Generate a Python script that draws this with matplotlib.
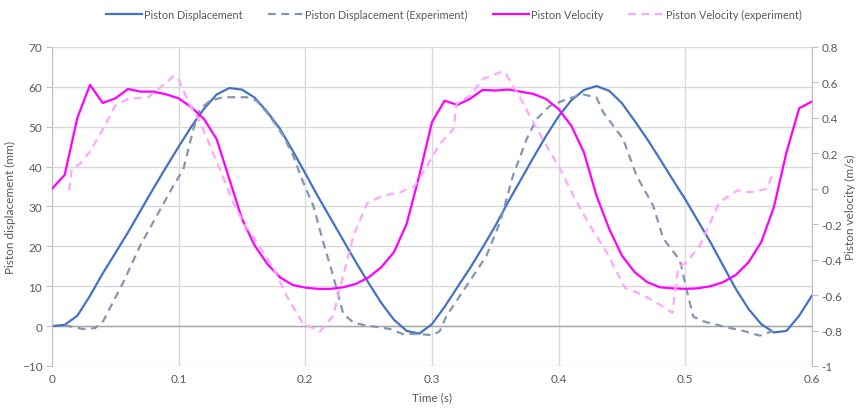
import numpy as np
import matplotlib
matplotlib.use("Agg")
import matplotlib.pyplot as plt

plt.rcParams['font.family'] = ['Lato', 'DejaVu Sans']

# model curves, sampled every 0.01 s
time_s = [round(0.01 * i, 2) for i in range(61)]
disp_mm = [0, 0.3, 2.6, 7.6, 13.2, 18.3, 23.5, 29, 34.5, 39.8,
           45, 50, 54.5, 58.1, 59.7, 59.3, 57.3, 53.7, 49.5, 44,
           38.3, 32.5, 27, 21.5, 16, 10.8, 5.8, 1.6, -1.2, -1.9,
           0.5, 4.8, 9.7, 14.5, 19.7, 25.1, 31, 36.6, 42.2, 47.6,
           52.6, 56.6, 59.2, 60.2, 59, 55.9, 51.5, 46.9, 41.9, 36.8,
           31.8, 26.4, 21, 15.1, 9.3, 4.3, 0.5, -1.6, -1.2, 2.6, 7.6]
vel_ms = [0.0, 0.078, 0.40, 0.586, 0.484, 0.51, 0.563, 0.548, 0.548, 0.533,
          0.51, 0.46, 0.394, 0.28, 0.055, -0.17, -0.32, -0.424, -0.5, -0.543,
          -0.558, -0.565, -0.565, -0.556, -0.537, -0.5, -0.443, -0.358, -0.199, 0.074,
          0.375, 0.497, 0.473, 0.507, 0.558, 0.554, 0.56, 0.548, 0.535, 0.507,
          0.45, 0.356, 0.206, -0.04, -0.227, -0.377, -0.47, -0.527, -0.556, -0.562,
          -0.565, -0.562, -0.55, -0.527, -0.486, -0.415, -0.302, -0.105, 0.206, 0.454, 0.492]

# experiment, displacement
exp_disp_t = [0.010, 0.0247, 0.034, 0.0405, 0.0563, 0.0695, 0.0826, 0.0958, 0.1037, 0.1116,
              0.1168, 0.1247, 0.135, 0.1537, 0.1616, 0.172, 0.1826, 0.1905, 0.1984, 0.2063,
              0.2142, 0.222, 0.230, 0.238, 0.2484, 0.259, 0.267, 0.277, 0.2905, 0.301,
              0.3063, 0.3116, 0.3274, 0.343, 0.3537, 0.364, 0.3748, 0.3826, 0.393, 0.4063,
              0.4195, 0.43, 0.4353, 0.451, 0.4616, 0.4747, 0.4826, 0.4958, 0.501, 0.5063,
              0.5142, 0.5326, 0.5458, 0.559, 0.5695]
exp_disp_mm = [0.2, -0.75, -0.5, 1.3, 11, 20.1, 27.6, 35.2, 39.3, 49.4,
               54.4, 56.5, 57.4, 57.4, 56.5, 52.7, 47.7, 42.7, 36, 30.2,
               21, 12.6, 3, 0.9, 0.1, -0.3, -0.75, -2.0, -2.0, -2.3,
               -1.2, 2.6, 10.1, 17.6, 26, 37.7, 46.9, 51.9, 55.2, 56.9,
               58.1, 57.3, 53.6, 46.9, 37.7, 30.2, 22, 16.5, 9.3, 2.4,
               1.2, -0.3, -1.2, -2.4, -1.2]

# experiment, velocity
exp_vel_t = [0.0135, 0.0155, 0.022, 0.030, 0.0405, 0.050, 0.060, 0.076, 0.086, 0.096,
             0.099, 0.109, 0.117, 0.1226, 0.1326, 0.143, 0.151, 0.1616, 0.175, 0.185,
             0.198, 0.2116, 0.222, 0.230, 0.238, 0.249, 0.2616, 0.275, 0.2866, 0.297,
             0.306, 0.317, 0.3195, 0.33, 0.3405, 0.3537, 0.3576, 0.3695, 0.38, 0.3905,
             0.401, 0.4116, 0.4247, 0.438, 0.4525, 0.4616, 0.4747, 0.490, 0.4925, 0.4945,
             0.501, 0.5116, 0.527, 0.541, 0.552, 0.5642, 0.5695]
exp_vel_ms = [-0.01, 0.11, 0.14, 0.21, 0.34, 0.47, 0.507, 0.516, 0.575, 0.635,
              0.63, 0.47, 0.375, 0.28, 0.11, -0.076, -0.19, -0.30, -0.45, -0.60,
              -0.76, -0.805, -0.716, -0.49, -0.265, -0.08, -0.039, -0.02, 0.017, 0.14,
              0.25, 0.337, 0.48, 0.525, 0.62, 0.657, 0.657, 0.516, 0.375, 0.243,
              0.115, -0.039, -0.208, -0.358, -0.56, -0.584, -0.631, -0.70, -0.55, -0.443,
              -0.415, -0.32, -0.076, -0.01, -0.02, 0.0, 0.09]

txt = '#595959'
grid_c = '#d9d9d9'

fig = plt.figure(figsize=(8.6, 4.1), dpi=100)
ax = fig.add_axes([0.0605, 0.105, 0.8835, 0.778])
ax2 = ax.twinx()

l1, = ax.plot(time_s, disp_mm, color='#4472C4', lw=1.6, label='Piston Displacement')
l2, = ax.plot(exp_disp_t, exp_disp_mm, color='#8497B0', lw=1.6, dashes=(3.5, 2.5),
              label='Piston Displacement (Experiment)')
l3, = ax2.plot(time_s, vel_ms, color='#FF00FF', lw=1.6, label='Piston Velocity')
l4, = ax2.plot(exp_vel_t, exp_vel_ms, color='#FFA6FF', lw=1.6, dashes=(3.5, 2.5),
               label='Piston Velocity (experiment)')

ax.set_xlim(0, 0.6)
ax.set_ylim(-10, 70)
ax.set_xticks(np.arange(0, 0.61, 0.1))
ax.set_xticklabels(['0', '0.1', '0.2', '0.3', '0.4', '0.5', '0.6'])
ax.set_yticks(range(-10, 71, 10))
ax.grid(True, color=grid_c, lw=1)
ax.set_axisbelow(True)
ax.axhline(0, color='#a6a6a6', lw=1, zorder=1)

ax2.set_ylim(-1, 0.8)
rticks = [-1, -0.8, -0.6, -0.4, -0.2, 0, 0.2, 0.4, 0.6, 0.8]
ax2.set_yticks(rticks)
ax2.set_yticklabels(['-1', '-0.8', '-0.6', '-0.4', '-0.2', '0', '0.2', '0.4', '0.6', '0.8'])

for a in (ax, ax2):
    for s in a.spines.values():
        s.set_visible(False)
    a.tick_params(colors=txt, labelsize=8.5, length=0, pad=5)
ax.spines['left'].set_visible(True)
ax.spines['left'].set_color('#bfbfbf')
ax2.spines['right'].set_visible(True)
ax2.spines['right'].set_color('#bfbfbf')
ax2.tick_params(axis='y', length=4, color='#bfbfbf', pad=3)
ax.tick_params(axis='y', length=4, color='#bfbfbf', pad=3)

ax.set_xlabel('Time (s)', color=txt, fontsize=8.5, labelpad=5)
ax.set_ylabel('Piston displacement (mm)', color=txt, fontsize=8.5, labelpad=4)
ax2.set_ylabel('Piston velocity (m/s)', color=txt, fontsize=8.5, labelpad=2)

fig.legend(handles=[l1, l2, l3, l4], loc='upper center', ncol=4, frameon=False,
           fontsize=7.8, labelcolor=txt, bbox_to_anchor=(0.528, 1.0),
           handlelength=3.3, handletextpad=0.2, columnspacing=2.3)

fig.savefig('out.png', dpi=100)
